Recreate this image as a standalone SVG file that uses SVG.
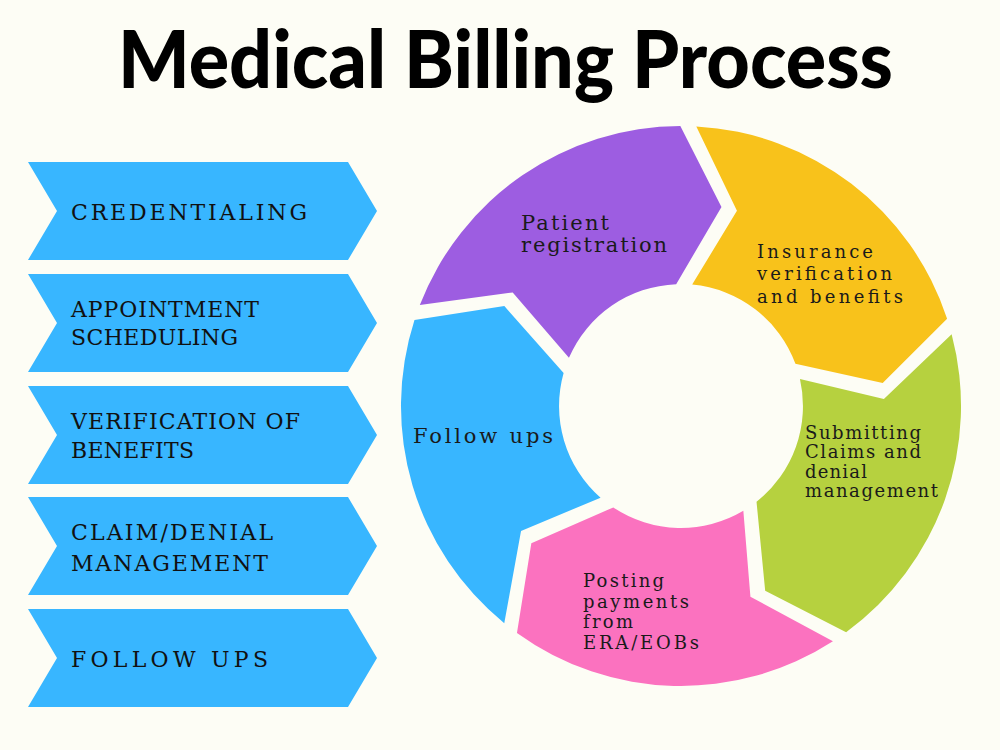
<svg xmlns="http://www.w3.org/2000/svg" width="1000" height="750" viewBox="0 0 1000 750">
<style>
.title{font-family:Lato,Inter,"Liberation Sans",sans-serif;font-weight:900;font-size:80px;fill:#000}
.chev{fill:#38b6ff}
.ct{font-family:"DejaVu Serif","Liberation Serif",serif;font-size:22px;fill:#111}
.wt{font-family:"DejaVu Serif","Liberation Serif",serif;font-size:21px;fill:#1a1a1a}
.ws{font-family:"DejaVu Serif","Liberation Serif",serif;font-size:18px;fill:#1a1a1a}
</style>
<rect width="1000" height="750" fill="#fdfdf5"/>
<text class="title" x="118" y="88" textLength="775" lengthAdjust="spacingAndGlyphs">Medical Billing Process</text>

<g id="chev1"><path class="chev" d="M28 162 L348 162 L377 211 L348 260 L28 260 L57 211 Z"/>
<text class="ct" x="71" y="220" textLength="236" lengthAdjust="spacing">CREDENTIALING</text></g>
<g id="chev2"><path class="chev" d="M28 274 L348 274 L377 323 L348 372 L28 372 L57 323 Z"/>
<text class="ct" x="71" y="317" textLength="188" lengthAdjust="spacing">APPOINTMENT</text>
<text class="ct" x="71" y="345" textLength="167" lengthAdjust="spacing">SCHEDULING</text></g>
<g id="chev3"><path class="chev" d="M28 386 L348 386 L377 435 L348 484 L28 484 L57 435 Z"/>
<text class="ct" x="71" y="429" textLength="229" lengthAdjust="spacing">VERIFICATION OF</text>
<text class="ct" x="71" y="458" textLength="123" lengthAdjust="spacing">BENEFITS</text></g>
<g id="chev4"><path class="chev" d="M28 497 L348 497 L377 546 L348 595 L28 595 L57 546 Z"/>
<text class="ct" x="71" y="540" textLength="202" lengthAdjust="spacing">CLAIM/DENIAL</text>
<text class="ct" x="71" y="571" textLength="197" lengthAdjust="spacing">MANAGEMENT</text></g>
<g id="chev5"><path class="chev" d="M28 609 L348 609 L377 658 L348 707 L28 707 L57 658 Z"/>
<text class="ct" x="71" y="667" textLength="197" lengthAdjust="spacing">FOLLOW UPS</text></g>

<g id="seg-patient"><path fill="#9d5de1" d="M 419.82 305.03 A 280 280 0 0 1 680.33 125.99 L 721.47 207.08 L 676.19 284.13 A 122 122 0 0 0 568.95 357.84 L 512.71 292.48 Z"/>
<text class="wt" x="521" y="230" textLength="88" lengthAdjust="spacing">Patient</text>
<text class="wt" x="521" y="252" textLength="146" lengthAdjust="spacing">registration</text></g>
<g id="seg-insurance"><path fill="#f8c21b" d="M 696.32 126.41 A 280 280 0 0 1 947.10 318.83 L 882.70 383.02 L 795.42 363.77 A 122 122 0 0 0 692.18 284.55 L 736.95 210.86 Z"/>
<text class="ws" x="757" y="258" textLength="116" lengthAdjust="spacing">Insurance</text>
<text class="ws" x="757" y="280" textLength="135" lengthAdjust="spacing">verification</text>
<text class="ws" x="757" y="303" textLength="146" lengthAdjust="spacing">and benefits</text></g>
<g id="seg-submitting"><path fill="#b6d13f" d="M 951.64 334.17 A 280 280 0 0 1 846.13 632.14 L 765.18 590.72 L 756.52 501.77 A 122 122 0 0 0 799.96 379.11 L 883.88 398.92 Z"/>
<text class="ws" x="805" y="439" textLength="116" lengthAdjust="spacing">Submitting</text>
<text class="ws" x="805" y="458" textLength="116" lengthAdjust="spacing">Claims and</text>
<text class="ws" x="805" y="478" textLength="62" lengthAdjust="spacing">denial</text>
<text class="ws" x="805" y="497" textLength="133" lengthAdjust="spacing">management</text></g>
<g id="seg-posting"><path fill="#fb72bf" d="M 832.95 641.20 A 280 280 0 0 1 516.96 632.93 L 531.33 543.14 L 613.26 507.42 A 122 122 0 0 0 743.34 510.83 L 750.43 596.76 Z"/>
<text class="ws" x="583" y="587" textLength="81" lengthAdjust="spacing">Posting</text>
<text class="ws" x="583" y="608" textLength="106" lengthAdjust="spacing">payments</text>
<text class="ws" x="583" y="628" textLength="50" lengthAdjust="spacing">from</text>
<text class="ws" x="583" y="649" textLength="116" lengthAdjust="spacing">ERA/EOBs</text></g>
<g id="seg-followups"><path fill="#38b6ff" d="M 504.26 623.19 A 280 280 0 0 1 414.48 320.11 L 504.32 306.04 L 563.61 372.92 A 122 122 0 0 0 600.56 497.68 L 521.03 530.98 Z"/>
<text class="wt" x="413" y="443" textLength="140" lengthAdjust="spacing">Follow ups</text></g>
<g id="connectors"></g>
</svg>
